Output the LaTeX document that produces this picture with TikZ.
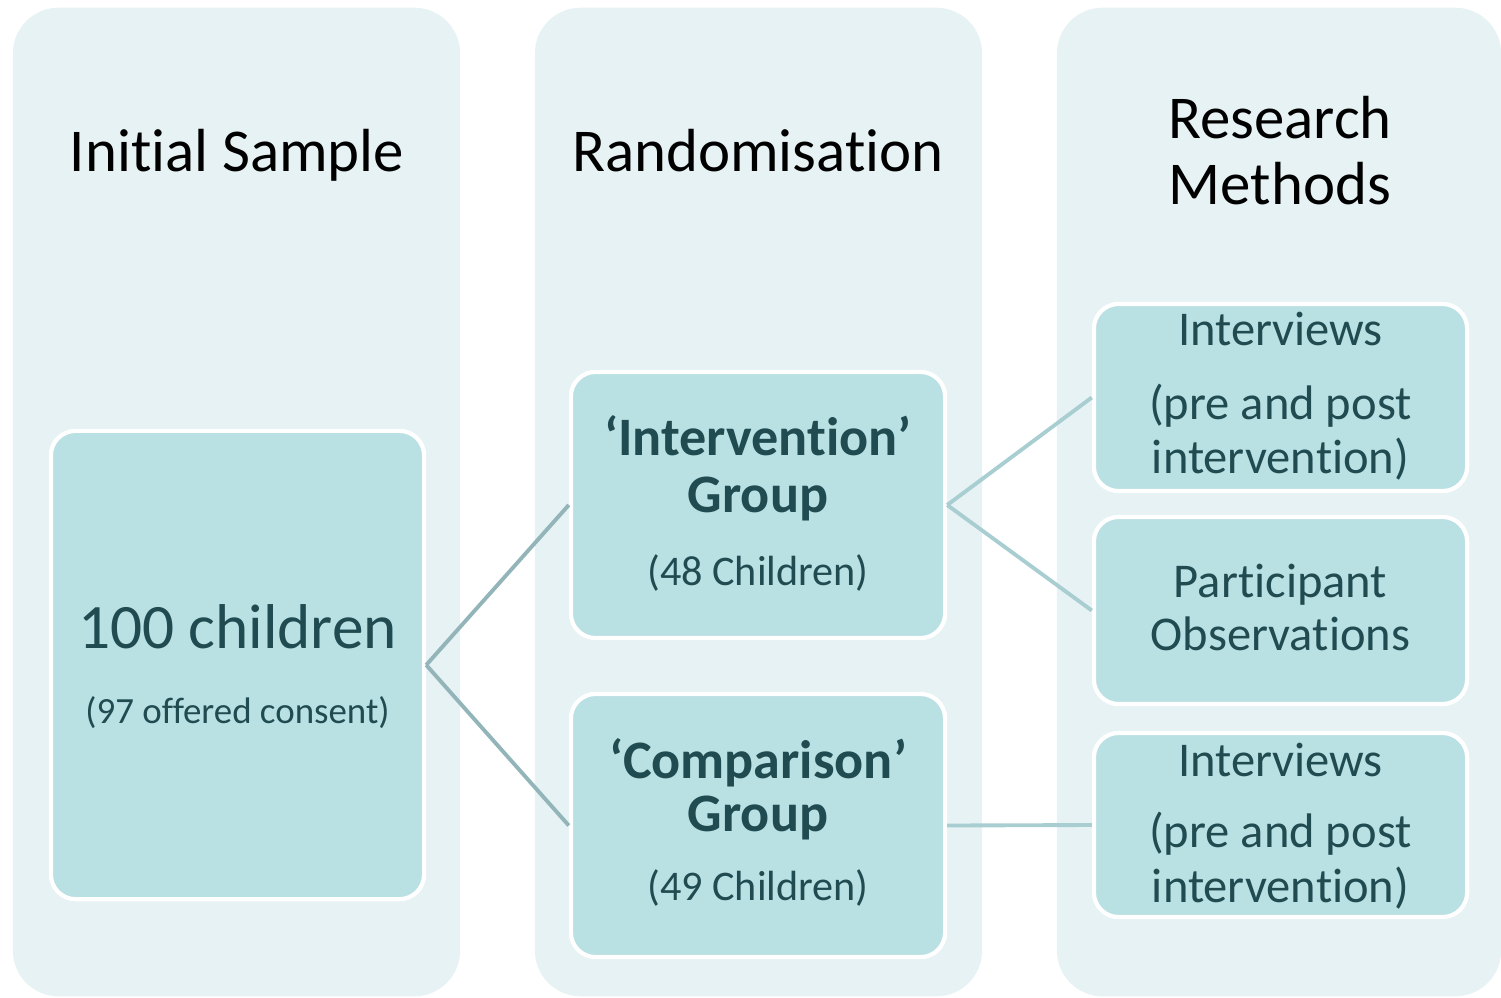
\documentclass[tikz,border=0pt]{standalone}
\usepackage{fontspec}
\setmainfont[Ligatures={NoCommon}]{Carlito}
\definecolor{colbg}{HTML}{E6F2F4}
\definecolor{boxbg}{HTML}{B9E0E3}
\definecolor{txt}{HTML}{1F4B51}
\definecolor{lineL}{HTML}{93B5B9}
\definecolor{lineR}{HTML}{A9CED1}
\tikzset{
  column/.style={fill=colbg, rounded corners=13pt, inner sep=0pt},
  inbox/.style={fill=boxbg, draw=white, line width=1.2pt, rounded corners=7pt, inner sep=0pt},
  head/.style={anchor=base, text=black, inner sep=0pt, font=\fontsize{17.3}{20}\selectfont},
  big/.style={anchor=base, text=txt, inner sep=0pt, font=\fontsize{18}{20}\selectfont},
  small/.style={anchor=base, text=txt, inner sep=0pt, font=\fontsize{10.5}{13}\selectfont},
  bold/.style={anchor=base, text=txt, inner sep=0pt, font=\bfseries\fontsize{15.4}{17}\selectfont},
  mid/.style={anchor=base, text=txt, inner sep=0pt, font=\fontsize{12}{14}\selectfont},
  meth/.style={anchor=base, text=txt, inner sep=0pt, font=\fontsize{13.8}{16}\selectfont},
  linkL/.style={draw=lineL, line width=1.1pt},
  linkR/.style={draw=lineR, line width=1.1pt}
}
\begin{document}
\begin{tikzpicture}[x=0.01cm, y=-0.01cm]
\useasboundingbox (0,0) rectangle (1501,997);
% columns
\node[column, minimum width=4.47cm, minimum height=9.88cm] (c1) at (236.5,502) {};
\node[column, minimum width=4.47cm, minimum height=9.88cm] (c2) at (758.5,502) {};
\node[column, minimum width=4.44cm, minimum height=9.88cm] (c3) at (1279,502) {};
% headers
\node[head] (h1) at (237,172) {Initial Sample};
\node[head] (h2) at (758,172) {Randomisation};
\node[head] (h3a) at (1280,139) {Research};
\node[head] (h3b) at (1280,205) {Methods};
% inner boxes
\node[inbox, minimum width=3.73cm, minimum height=4.68cm] (b1) at (237.5,665) {};
\node[inbox, minimum width=3.74cm, minimum height=2.66cm] (b2) at (758,505) {};
\node[inbox, minimum width=3.74cm, minimum height=2.63cm] (b3) at (758,825.5) {};
\node[inbox, minimum width=3.73cm, minimum height=1.87cm] (b4) at (1280.5,397.5) {};
\node[inbox, minimum width=3.73cm, minimum height=1.87cm] (b5) at (1280.5,610.5) {};
\node[inbox, minimum width=3.73cm, minimum height=1.84cm] (b6) at (1280.5,825) {};
% connectors
\draw[linkL] (b1.east) -- (b2.west);
\draw[linkL] (b1.east) -- (b3.west);
\draw[linkR] (b2.east) -- (b4.west);
\draw[linkR] (b2.east) -- (b5.west);
\draw[linkR] (b3.east) -- (b6.west);
% texts
\node[big] (t1a) at (237.5,648) {100 children};
\node[small] (t1b) at (237.5,723) {(97 offered consent)};
\node[bold] (t2a) at (758,455) {‘Intervention’};
\node[bold] (t2b) at (758,512) {Group};
\node[mid] (t2c) at (758,585) {(48 Children)};
\node[bold] (t3a) at (758,778) {‘Comparison’};
\node[bold] (t3b) at (758,831) {Group};
\node[mid] (t3c) at (758,900) {(49 Children)};
\node[meth] (t4a) at (1280.5,345) {Interviews};
\node[meth] (t4b) at (1280.5,419) {(pre and post};
\node[meth] (t4c) at (1280.5,473) {intervention)};
\node[meth] (t5a) at (1280.5,597) {Participant};
\node[meth] (t5b) at (1280.5,650) {Observations};
\node[meth] (t6a) at (1280.5,776) {Interviews};
\node[meth] (t6b) at (1280.5,847) {(pre and post};
\node[meth] (t6c) at (1280.5,902) {intervention)};
\end{tikzpicture}
\end{document}
